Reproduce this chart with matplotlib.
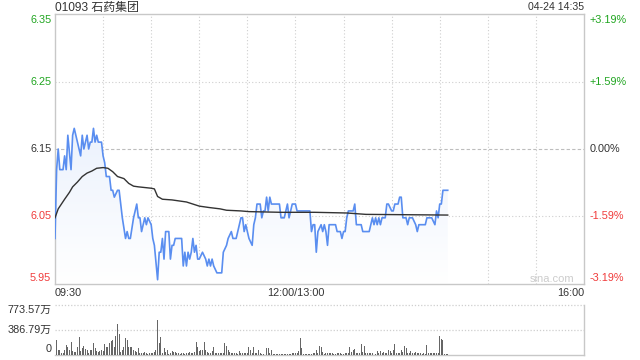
import numpy as np
import matplotlib.pyplot as plt
from matplotlib.colors import LinearSegmentedColormap
from matplotlib.transforms import blended_transform_factory

plt.rcParams['font.family'] = ['Liberation Sans', 'Noto Sans CJK SC']

title = "01093 石药集团"
stamp = "04-24 14:35"
prev_close = 6.15
pct_levels = [0.0319, 0.0159, 0.0, -0.0159, -0.0319]
price_labels = ['6.35', '6.25', '6.15', '6.05', '5.95']
pct_labels = ['+3.19%', '+1.59%', '0.00%', '-1.59%', '-3.19%']
time_ticks = [0, 150, 330]
time_labels = ['09:30', '12:00/13:00', '16:00']
vol_max = 773.57
vol_labels = ['773.57万', '386.79万', '0']

# minutes since 09:30 (lunch break removed), price
price_min = [0, 1, 2, 3, 5, 6, 7, 8, 10, 11, 12, 14, 16, 17, 18, 20, 21, 22, 23, 24,
             25, 26, 27, 29, 30, 31, 32, 34, 35, 36, 37, 39, 40, 42, 44, 45, 46, 47, 49, 51,
             52, 53, 54, 56, 57, 58, 60, 61, 62, 64, 65, 66, 67, 68, 69, 71, 72, 73, 74, 75,
             79, 80, 81, 82, 83, 84, 85, 86, 87, 88, 89, 90, 92, 94, 95, 96, 97, 98, 99, 101,
             104, 105, 107, 108, 110, 111, 113, 114, 116, 117, 118, 119, 120, 121, 123, 124, 125, 126, 128, 129,
             130, 131, 132, 133, 134, 135, 140, 141, 143, 144, 145, 146, 147, 148, 150, 151, 159, 160, 161, 162,
             163, 164, 166, 167, 168, 169, 170, 171, 175, 176, 178, 179, 180, 181, 182, 183, 186, 187, 188, 191,
             192, 196, 198, 199, 200, 201, 202, 203, 204, 206, 207, 208, 210, 211, 212, 214, 215, 216, 217, 219,
             220, 221, 223, 225, 226, 227, 231, 232, 235, 237, 238, 239, 240, 241, 242, 245]
price = [6.02, 6.12, 6.15, 6.12, 6.12, 6.14, 6.12, 6.17, 6.12, 6.17, 6.18, 6.16, 6.14, 6.17, 6.15, 6.17, 6.15, 6.16, 6.16, 6.18,
         6.16, 6.17, 6.16, 6.16, 6.14, 6.13, 6.11, 6.11, 6.09, 6.09, 6.08, 6.09, 6.09, 6.05, 6.02, 6.03, 6.02, 6.02, 6.05, 6.07,
         6.05, 6.05, 6.03, 6.05, 6.04, 6.05, 6.04, 6.02, 6.01, 5.96, 6.00, 6.00, 6.02, 5.99, 6.03, 6.03, 5.99, 6.01, 6.01, 6.02,
         6.02, 5.98, 6.00, 5.98, 6.00, 5.99, 6.00, 6.02, 6.00, 6.01, 5.99, 5.99, 6.00, 5.99, 5.98, 5.99, 5.98, 5.99, 5.98, 5.97,
         5.97, 6.00, 6.01, 6.02, 6.03, 6.02, 6.02, 6.03, 6.05, 6.05, 6.03, 6.04, 6.03, 6.02, 6.01, 6.04, 6.05, 6.07, 6.07, 6.05,
         6.06, 6.06, 6.08, 6.06, 6.08, 6.07, 6.07, 6.05, 6.05, 6.06, 6.07, 6.05, 6.06, 6.07, 6.07, 6.06, 6.06, 6.03, 6.04, 6.04,
         6.00, 6.03, 6.04, 6.03, 6.04, 6.03, 6.01, 6.04, 6.04, 6.03, 6.03, 6.02, 6.03, 6.03, 6.05, 6.06, 6.06, 6.07, 6.04, 6.04,
         6.03, 6.03, 6.05, 6.04, 6.05, 6.04, 6.05, 6.04, 6.05, 6.05, 6.07, 6.07, 6.06, 6.06, 6.07, 6.07, 6.08, 6.08, 6.05, 6.05,
         6.04, 6.05, 6.05, 6.04, 6.03, 6.04, 6.04, 6.05, 6.05, 6.04, 6.06, 6.05, 6.07, 6.07, 6.09, 6.09]

avg_min = [0, 2, 4, 6, 9, 11, 14, 17, 20, 23, 26, 30, 33, 36, 39, 43, 46, 49, 52, 56,
           60, 62, 64, 67, 73, 82, 86, 90, 96, 103, 107, 116, 121, 141, 162, 182, 194, 245]
avg = [6.050, 6.063, 6.070, 6.077, 6.087, 6.095, 6.102, 6.110, 6.115, 6.118, 6.122, 6.123, 6.122, 6.117, 6.110, 6.107, 6.100, 6.096, 6.095, 6.094,
       6.093, 6.092, 6.081, 6.077, 6.076, 6.073, 6.070, 6.067, 6.065, 6.063, 6.061, 6.060, 6.059, 6.058, 6.058, 6.057, 6.055, 6.054]

# volume per minute, 万 shares
vol_am = [774, 225, 68, 68, 26, 26, 78, 146, 120, 68,
          199, 57, 37, 42, 120, 277, 57, 94, 131, 89,
          78, 16, 68, 68, 183, 94, 57, 42, 57, 68, 57, 162, 120,
          110, 183, 214, 225, 110, 287, 476, 319, 42, 68,
          120, 251, 225, 120, 110, 110, 68, 57, 42, 94,
          16, 26, 16, 42, 26, 5, 30, 25, 26, 42, 68, 538,
          183, 277, 26, 94, 42, 68, 5, 16, 52, 42,
          42, 16, 31, 5, 16, 26, 10, 31, 16, 37, 16, 31, 42,
          199, 120, 57, 78, 68, 199, 68, 42, 16, 26,
          57, 120, 26, 31, 16, 31, 16, 16, 183, 131,
          68, 42, 16, 31, 16, 16, 5, 52, 26, 31,
          26, 16, 16, 120]
vol_pm = [110, 68, 26, 110, 26, 16, 68, 16, 5, 5,
          5, 94, 94, 26, 68, 5, 5, 2, 3, 2, 5, 3, 8, 5,
          3, 2, 5, 31, 31, 16, 16, 52, 251, 94,
          5, 5, 5, 3, 5, 5, 26, 16, 68, 16,
          131, 120, 42, 5, 31, 16, 26, 16, 31, 5,
          5, 26, 16, 31, 5, 5, 16, 16, 16, 110,
          42, 68, 84, 26, 16, 26, 162, 42, 131, 26,
          31, 16, 31, 16, 209, 5, 52, 26, 52, 26,
          42, 26, 26, 68, 52, 16, 78, 162, 16, 26,
          26, 78, 42, 131, 94, 16, 26, 52, 26, 16,
          42, 16, 31, 31, 5, 16, 5, 146, 16, 26,
          16, 26, 26, 16, 16, 287, 240, 225, 5, 5,
          5]

levels = [prev_close * (1 + p) for p in pct_levels]
ylo, yhi = levels[-1], levels[0]
green, red, dark = '#1fa51f', '#f03a3a', '#333333'
lab_colors = [green, green, dark, red, red]
grid_c = '#cfcfcf'
fs = 7.8

fig = plt.figure(figsize=(6.4, 3.6), dpi=100)
ax = fig.add_axes([55 / 640, 1 - 284 / 360, 529 / 640, 270 / 360])
axv = fig.add_axes([55 / 640, 1 - 354.5 / 360, 529 / 640, 49.5 / 360])

# gradient fill under price line
poly = ax.fill_between(price_min, price, ylo, facecolor='none', edgecolor='none')
cmap = LinearSegmentedColormap.from_list('fill', ['#ffffff', '#dde8fb'])
grad = np.linspace(1, 0, 256).reshape(-1, 1)
im = ax.imshow(grad, extent=[0, 330, ylo, yhi], aspect='auto', cmap=cmap,
               origin='upper', zorder=1)
im.set_clip_path(poly.get_paths()[0], transform=ax.transData)

for m in range(30, 330, 30):
    ax.axvline(m, color=grid_c, lw=0.8, ls=(0, (1, 2)), zorder=0)
for lv in levels[1:-1]:
    if lv == prev_close:
        ax.axhline(lv, color='#bdbdbd', lw=0.8, ls=(0, (3, 2)), zorder=0)
    else:
        ax.axhline(lv, color=grid_c, lw=0.8, ls=(0, (1, 2)), zorder=0)

ax.plot(price_min, price, color='#5a8ef0', lw=1.2, zorder=3)
ax.plot(avg_min, avg, color='#333333', lw=1.0, zorder=4)

ax.set_xlim(0, 330)
ax.set_ylim(ylo, yhi)
ax.set_xticks([])
ax.set_yticks([])
for s in ax.spines.values():
    s.set_color('#c8c8c8')
    s.set_linewidth(1)

tl = blended_transform_factory(ax.transAxes, ax.transData)
vas = ['top', 'center', 'center', 'center', 'bottom']
for lv, pl, cl, c, va in zip(levels, price_labels, pct_labels, lab_colors, vas):
    off = {'top': -0.0015, 'center': 0, 'bottom': 0.0015}[va]
    ax.text(-0.007, lv + off, pl, transform=tl, ha='right', va=va, color=c, fontsize=fs)
    ax.text(1.011, lv + off, cl, transform=tl, ha='left', va=va, color=c, fontsize=fs)

tx = blended_transform_factory(ax.transData, ax.transAxes)
for t, lab, ha in zip(time_ticks, time_labels, ['left', 'center', 'right']):
    ax.text(t, -0.016, lab, transform=tx, ha=ha, va='top', color=dark, fontsize=fs)

ax.text(0.94, 0.02, 'sina.com', transform=ax.transAxes, ha='center', va='center',
        color='#cccccc', fontsize=8)

fig.text(55 / 640, 1 - 7.5 / 360, title, ha='left', va='center', color=dark, fontsize=8.6)
fig.text(584 / 640, 1 - 7.5 / 360, stamp, ha='right', va='center', color=dark, fontsize=7.6)

# volume pane
vol = vol_am + vol_pm
vol_t = list(range(len(vol_am))) + list(range(246 - len(vol_pm), 246))
axv.bar(vol_t, vol, width=0.62, color='#666666', zorder=3, align='center')
axv.set_xlim(0, 330)
axv.set_ylim(0, vol_max)
for v in [vol_max, vol_max / 2]:
    axv.axhline(v, color=grid_c, lw=0.9, ls=(0, (1, 1.5)), zorder=0, clip_on=False)
axv.set_xticks([])
axv.set_yticks([])
axv.spines['top'].set_visible(False)
axv.spines['left'].set_visible(False)
for k in ['right', 'bottom']:
    axv.spines[k].set_color('#c8c8c8')
    axv.spines[k].set_linewidth(1)
for v, lab, va in zip([vol_max, vol_max / 2, 0], vol_labels, ['top', 'center', 'bottom']):
    axv.text(-0.007, v, lab, transform=blended_transform_factory(axv.transAxes, axv.transData),
             ha='right', va=va, color=dark, fontsize=fs)

fig.savefig('out.png', dpi=100)
